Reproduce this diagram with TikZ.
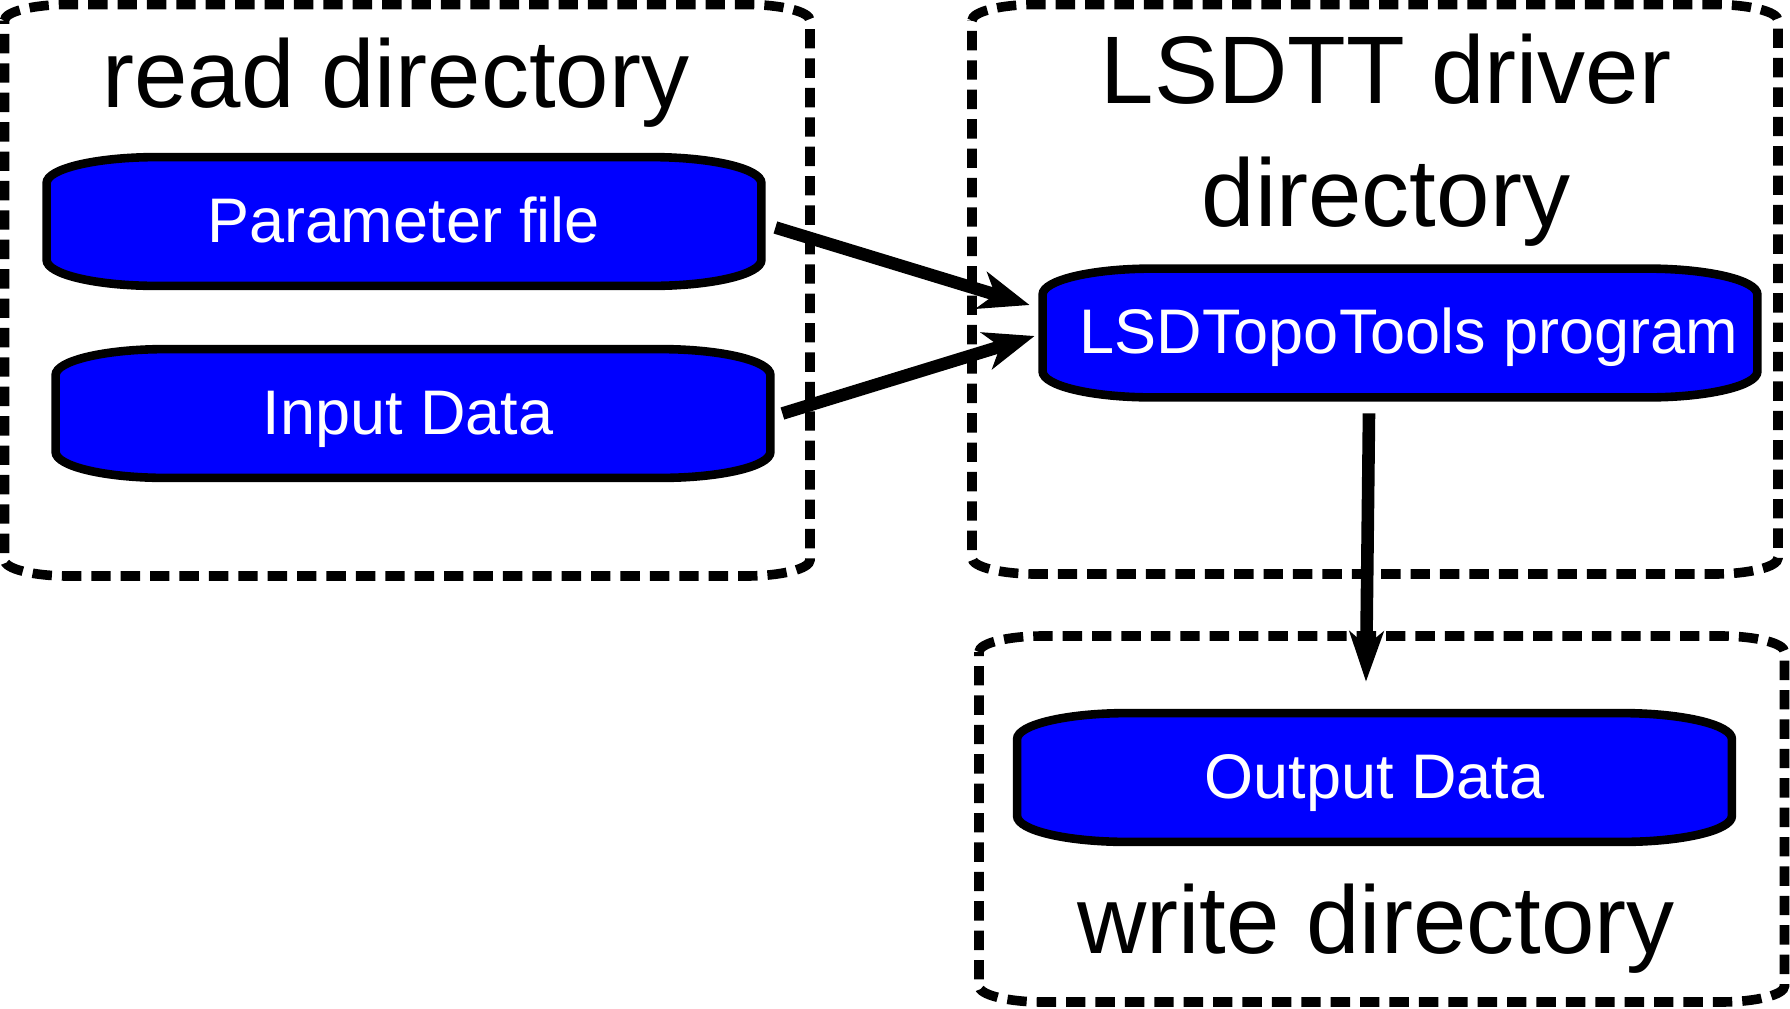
\documentclass[tikz,border=0pt]{standalone}
\usepackage{fontspec}
\setmainfont{Liberation Sans}
\usetikzlibrary{arrows.meta}
\pgfdeclarelayer{background}
\pgfsetlayers{background,main}
\tikzset{
  diskbox/.style={draw=none, rectangle, inner sep=0pt, minimum width=357pt, minimum height=64pt,
    text=white, font=\fontsize{31.5}{36}\selectfont, text height=22.5pt, text depth=2pt},
  diskfill/.style={fill=blue, draw=black, line width=4.3pt},
  dirframe/.style={draw=black, line width=4.8pt, dash pattern=on 9.7pt off 5pt},
  dirtitle/.style={font=\fontsize{48}{61.5}\selectfont, text=black, inner sep=0pt, anchor=base, align=center},
  arr/.style={line width=6.3pt, -{Stealth[length=25pt,width=19pt,inset=7pt]}},
  arrv/.style={line width=6.3pt, -{Stealth[length=25pt,width=17pt,inset=7pt]}},
}
\newcommand\diskshape[1]{%
  \path[diskfill] ([yshift=-13pt]#1.north west) arc[start angle=180,end angle=90,x radius=55pt,y radius=13pt]
   -- ([xshift=-55pt]#1.north east) arc[start angle=90,end angle=0,x radius=55pt,y radius=13pt]
   -- ([yshift=13pt]#1.south east) arc[start angle=0,end angle=-90,x radius=55pt,y radius=13pt]
   -- ([xshift=55pt]#1.south west) arc[start angle=270,end angle=180,x radius=55pt,y radius=13pt]
   -- cycle;}
\newcommand\roundframe[4]{%
  \draw[dirframe] (#1,#2+16) arc[start angle=180,end angle=90,x radius=32pt,y radius=8pt]
   -- (#3-64,#2) arc[start angle=90,end angle=0,x radius=32pt,y radius=8pt]
   -- (#3,#4-16) arc[start angle=0,end angle=-90,x radius=32pt,y radius=8pt]
   -- (#1+64,#4) arc[start angle=270,end angle=180,x radius=32pt,y radius=8pt]
   -- cycle;}
\begin{document}
\begin{tikzpicture}[x=0.5pt,y=-0.5pt]
\useasboundingbox (0,0) rectangle (1790,1008);
% blue boxes
\node[diskbox] (param) at (404,221.5) {Parameter file};
\node[diskbox] (input) at (413,413.5) {Input Data\hspace*{5pt}};
\node[diskbox] (lsd) at (1400,333) {\hspace*{9pt}LSDTopoTools program};
\node[diskbox] (output) at (1374.5,777.5) {Output Data};
% titles
\node[dirtitle] (readt) at (396,107) {read directory};
\node[dirtitle] (lsdt) at (1386,226) {LSDTT driver\\directory};
\node[dirtitle] (writet) at (1376,953) {write directory};
\begin{pgfonlayer}{background}
  \roundframe{4.5}{4.5}{810}{576}
  \roundframe{972}{4.5}{1778}{574}
  \roundframe{979}{636}{1784.5}{1002}
  \diskshape{param}
  \diskshape{input}
  \diskshape{lsd}
  \diskshape{output}
\end{pgfonlayer}
% arrows
\draw[arr] ([xshift=7pt,yshift=-3pt]param.east) -- ([xshift=-6.5pt,yshift=14pt]lsd.west);
\draw[arr] ([xshift=6pt]input.east) -- ([xshift=-4pt,yshift=-1.5pt]lsd.west);
\draw[arrv] ([xshift=-15.5pt,yshift=-8pt]lsd.south) -- ([xshift=-4.25pt,yshift=15.75pt]output.north);
\end{tikzpicture}
\end{document}
